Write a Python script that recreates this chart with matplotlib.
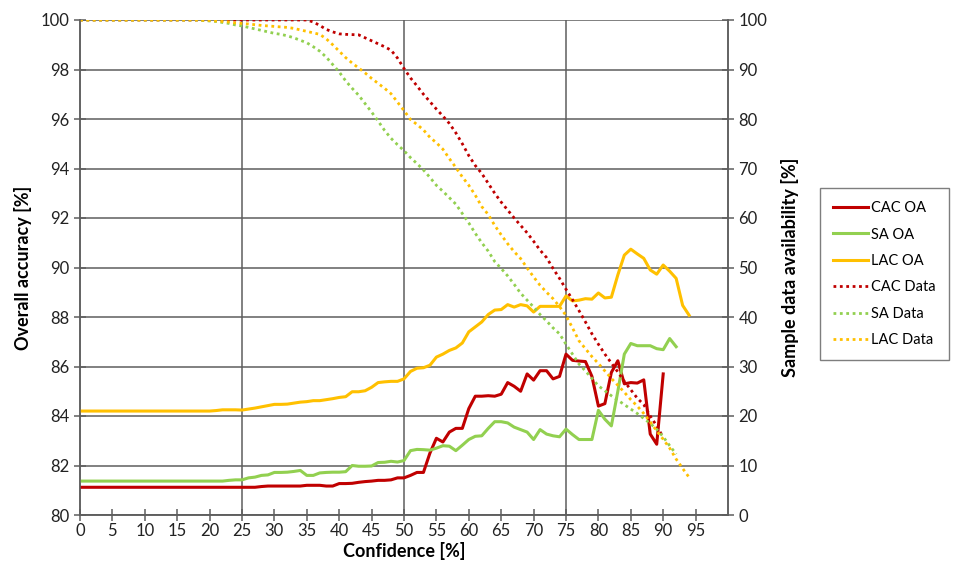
import matplotlib
matplotlib.use("Agg")
import matplotlib.pyplot as plt

plt.rcParams['font.family'] = ['Lato', 'DejaVu Sans']

# ---------------- data ----------------
cac_oa = [81.12] * 28 + [81.15] + [81.17] * 6 + [
    81.2, 81.2, 81.2, 81.17, 81.17, 81.27, 81.27, 81.28, 81.32, 81.35,
    81.37, 81.4, 81.4, 81.42, 81.5, 81.5, 81.6, 81.72, 81.72, 82.5,
    83.1, 82.95, 83.35, 83.5, 83.5, 84.3, 84.8, 84.8, 84.82, 84.8,
    84.88, 85.35, 85.2, 85.0, 85.7, 85.45, 85.83, 85.83, 85.5, 85.6,
    86.5, 86.25, 86.22, 86.2, 85.6, 84.4, 84.5, 85.76, 86.23, 85.3,
    85.35, 85.33, 85.46, 83.27, 82.86, 85.7]

sa_oa = [81.37] * 23 + [
    81.4, 81.42, 81.42, 81.5, 81.53, 81.6, 81.62, 81.72, 81.72, 81.73,
    81.76, 81.8, 81.6, 81.6, 81.7, 81.72, 81.73, 81.73, 81.75, 82.0,
    81.97, 81.97, 81.98, 82.12, 82.13, 82.17, 82.14, 82.2, 82.6, 82.65,
    82.64, 82.62, 82.7, 82.8, 82.78, 82.6, 82.82, 83.05, 83.18, 83.2,
    83.5, 83.77, 83.77, 83.72, 83.55, 83.45, 83.35, 83.05, 83.45, 83.27,
    83.2, 83.16, 83.47, 83.25, 83.05, 83.05, 83.05, 84.23, 83.87, 83.6,
    85.0, 86.5, 86.93, 86.84, 86.84, 86.84, 86.72, 86.68, 87.13, 86.8]

lac_oa = [84.2] * 21 + [
    84.22, 84.25, 84.25, 84.25, 84.24, 84.28, 84.32, 84.37, 84.42, 84.47,
    84.47, 84.48, 84.52, 84.56, 84.58, 84.62, 84.62, 84.66, 84.7, 84.75,
    84.78, 84.98, 84.98, 85.02, 85.16, 85.35, 85.38, 85.4, 85.4, 85.5,
    85.8, 85.93, 85.95, 86.05, 86.38, 86.5, 86.65, 86.75, 86.95, 87.4,
    87.6, 87.8, 88.1, 88.28, 88.3, 88.5, 88.4, 88.5, 88.45, 88.2,
    88.43, 88.43, 88.43, 88.43, 88.85, 88.65, 88.68, 88.74, 88.72, 88.97,
    88.77, 88.8, 89.7, 90.5, 90.74, 90.55, 90.37, 89.9, 89.73, 90.1,
    89.85, 89.56, 88.47, 88.07]

cac_data = [100.0] * 36 + [
    99.6, 98.9, 98.1, 97.6, 97.2, 97.1, 97.05, 97.0, 96.4, 95.8,
    95.2, 94.6, 93.9, 92.3, 90.2, 88.3, 86.7, 85.0, 83.5, 82.0,
    80.6, 79.1, 77.2, 75.0, 72.6, 70.6, 69.0, 67.0, 65.0, 63.2,
    61.6, 60.0, 58.5, 57.0, 55.3, 53.5, 52.0, 49.8, 47.8, 45.6,
    43.5, 41.3, 39.0, 36.6, 34.5, 32.5, 30.7, 28.9, 27.0, 25.3,
    23.6, 22.3, 20.0, 18.0, 15.7]

sa_data = [100.0] * 19 + [
    99.9, 99.8, 99.7, 99.5, 99.3, 99.0, 98.8, 98.5, 98.2, 97.9,
    97.6, 97.3, 97.1, 96.8, 96.4, 95.9, 95.4, 94.6, 93.7, 92.5,
    91.0, 89.5, 87.7, 86.2, 84.8, 83.1, 81.4, 79.6, 77.7, 76.1,
    74.8, 73.6, 72.2, 71.0, 69.7, 68.2, 66.6, 65.4, 64.1, 62.8,
    60.9, 59.0, 56.9, 55.0, 53.3, 51.2, 49.8, 48.3, 46.6, 44.8,
    43.4, 42.0, 40.5, 39.2, 37.8, 36.6, 34.5, 32.5, 30.5, 29.1,
    27.6, 26.1, 25.1, 24.1, 23.2, 22.3, 21.4, 20.5, 19.5, 18.5,
    17.3, 15.8, 14.0, 12.3]

lac_data = [100.0] * 19 + [
    99.95, 99.9, 99.8, 99.7, 99.6, 99.4, 99.3, 99.2, 99.05, 98.9,
    98.8, 98.7, 98.6, 98.5, 98.3, 98.0, 97.7, 97.4, 97.1, 96.2,
    95.0, 93.7, 92.4, 91.3, 90.3, 89.3, 88.2, 87.2, 86.2, 85.1,
    83.4, 81.7, 79.9, 78.9, 77.8, 76.3, 75.2, 73.9, 72.0, 70.2,
    68.3, 66.6, 64.6, 62.3, 60.7, 58.5, 56.6, 54.8, 53.2, 51.8,
    49.9, 48.1, 46.4, 45.0, 43.7, 42.1, 40.3, 37.8, 35.2, 33.6,
    32.0, 30.6, 29.1, 27.6, 26.2, 24.8, 23.3, 22.0, 20.5, 18.8,
    17.0, 15.3, 13.5, 11.3, 9.4, 7.6]

x_ticks = list(range(0, 100, 5))
left_ticks = list(range(80, 101, 2))
right_ticks = list(range(0, 101, 10))

RED = '#C00000'
GREEN = '#92D050'
GOLD = '#FFC000'
GRID = '#5e5e5e'

# ---------------- figure ----------------
fig = plt.figure(figsize=(9.64, 5.70), dpi=100)
ax = fig.add_axes([80 / 964, 55 / 570, 648 / 964, 495 / 570])
ax2 = ax.twinx()

ax.set_xlim(0, 100)
ax.set_ylim(80, 100)
ax2.set_ylim(0, 100)

# grid
for v in left_ticks:
    ax.axhline(v, color=GRID, lw=1.1, zorder=0)
for v in (25, 50, 75):
    ax.axvline(v, color=GRID, lw=1.1, zorder=0)

l1, = ax.plot(range(len(cac_oa)), cac_oa, color=RED, lw=2.2, label='CAC OA', zorder=3)
l2, = ax.plot(range(len(sa_oa)), sa_oa, color=GREEN, lw=2.2, label='SA OA', zorder=3)
l3, = ax.plot(range(len(lac_oa)), lac_oa, color=GOLD, lw=2.2, label='LAC OA', zorder=3)

ds = (0, (1, 1.3))
l4, = ax2.plot(range(len(cac_data)), cac_data, color=RED, lw=2.0, ls=ds, label='CAC Data')
l5, = ax2.plot(range(len(sa_data)), sa_data, color=GREEN, lw=2.0, ls=ds, label='SA Data')
l6, = ax2.plot(range(len(lac_data)), lac_data, color=GOLD, lw=2.0, ls=ds, label='LAC Data')

ax.set_xticks(x_ticks)
ax.set_yticks(left_ticks)
ax2.set_yticks(right_ticks)

for a in (ax, ax2):
    for s in a.spines.values():
        s.set_color(GRID)
        s.set_linewidth(1.1)
    a.spines['top'].set_visible(False)
    a.tick_params(direction='inout', length=8, width=1.1, color=GRID,
                  labelsize=12, labelcolor='#222222')

ax.tick_params(axis='x', pad=2)
ax.set_xlabel('Confidence [%]', fontsize=13, fontweight='bold', labelpad=2)
ax.set_ylabel('Overall accuracy [%]', fontsize=13, fontweight='bold', labelpad=6)
ax2.set_ylabel('Sample data availability [%]', fontsize=13, fontweight='bold', labelpad=10)

leg = fig.legend(handles=[l1, l2, l3, l4, l5, l6],
                 loc='upper left', bbox_to_anchor=(820 / 964, 1 - 188 / 570),
                 frameon=True, fancybox=False, edgecolor='#5e5e5e',
                 fontsize=10.5, handlelength=2.4, labelspacing=0.85,
                 borderpad=0.9, handletextpad=0.2, borderaxespad=0)
leg.get_frame().set_linewidth(1.0)

fig.savefig('out.png', dpi=100)
